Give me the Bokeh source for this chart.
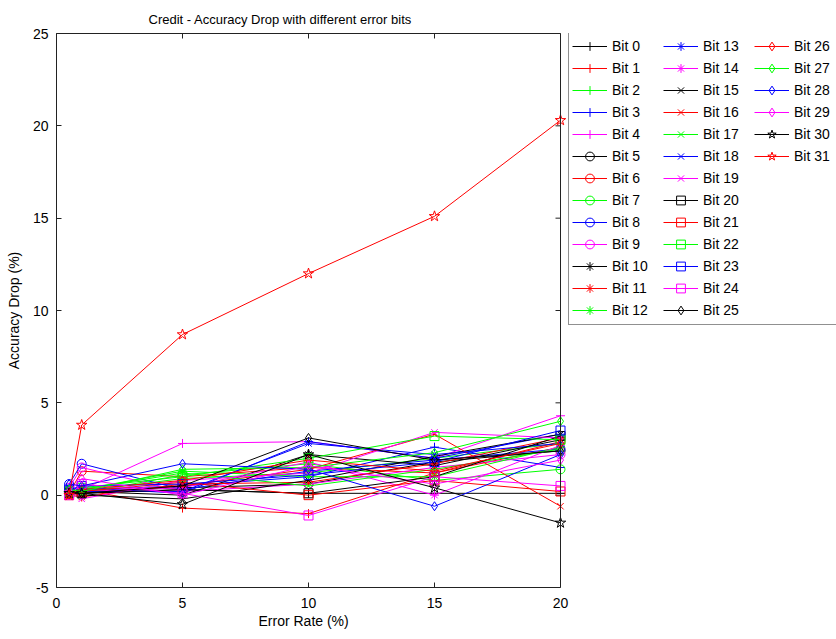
import math
from bokeh.plotting import figure
from bokeh.models import Legend, LegendItem, LinearAxis, FixedTicker, Range1d, Span, Title
from bokeh.embed import file_html
from bokeh.resources import INLINE

error_rates = [0.5, 1, 5, 10, 15, 20]

bit0 = [0.2, 0.1, 0.3, 0.1, 0.1, 0.1]
bit1 = [0.0, 0.3, -0.7, -1.0, 1.2, 2.6]
bit2 = [0.1, 0.2, 0.9, 1.2, 2.0, 2.8]
bit3 = [0.2, 0.3, 0.5, 1.0, 2.6, 1.5]
bit4 = [0.3, 0.3, 2.8, 2.9, 2.0, 4.3]
bit5 = [0.3, 0.2, 0.4, 0.6, 1.8, 2.4]
bit6 = [0.1, 1.3, 1.0, 1.5, 1.2, 2.9]
bit7 = [0.2, 0.1, 1.1, 1.7, 0.8, 1.4]
bit8 = [0.6, 1.7, 0.3, 1.3, 1.9, 2.5]
bit9 = [0.4, 1.5, 0.2, 0.6, 1.5, 2.2]
bit10 = [0.1, 0.2, 0.0, 2.2, 1.6, 3.0]
bit11 = [0.0, -0.1, 0.6, 0.7, 1.7, 3.1]
bit12 = [0.2, 0.3, 1.3, 1.0, 1.0, 2.6]
bit13 = [0.3, 0.4, 0.1, 2.9, 2.0, 3.3]
bit14 = [0.1, 0.2, 0.4, 1.8, 0.0, 2.7]
bit15 = [0.2, 0.0, -0.2, 0.8, 2.1, 3.3]
bit16 = [0.0, 0.1, 0.5, 1.4, 3.3, -0.6]
bit17 = [0.1, 0.3, 1.2, 0.5, 1.4, 2.5]
bit18 = [0.4, 0.2, 0.2, 2.8, 2.2, 2.8]
bit19 = [0.2, -0.2, 0.8, 1.2, 3.4, 3.1]
bit20 = [0.1, 0.1, 0.3, 0.1, 1.0, 3.2]
bit21 = [0.0, 0.2, 0.7, 0.0, 0.8, 0.2]
bit22 = [0.2, 0.4, 1.0, 2.0, 3.2, 3.0]
bit23 = [0.3, 0.5, 0.6, 1.1, 1.8, 3.5]
bit24 = [0.0, 0.6, 0.1, -1.1, 1.0, 0.5]
bit25 = [0.2, 0.1, 0.5, 3.1, 1.9, 2.4]
bit26 = [0.1, 0.3, 0.8, 1.9, 1.3, 2.8]
bit27 = [0.3, 0.2, 1.4, 1.5, 2.3, 4.0]
bit28 = [0.6, 0.5, 1.7, 1.4, -0.6, 2.2]
bit29 = [0.2, 0.9, 0.0, 1.6, 0.6, 1.9]
bit30 = [0.1, 0.1, -0.5, 2.2, 0.4, -1.5]
bit31 = [0.0, 3.8, 8.7, 12.0, 15.1, 20.3]

series = [bit0, bit1, bit2, bit3, bit4, bit5, bit6, bit7, bit8, bit9,
          bit10, bit11, bit12, bit13, bit14, bit15, bit16, bit17, bit18, bit19,
          bit20, bit21, bit22, bit23, bit24, bit25, bit26, bit27, bit28, bit29,
          bit30, bit31]
labels = ["Bit %d" % i for i in range(32)]
colors = ["#000000", "#ff0000", "#00ff00", "#0000ff", "#ff00ff"]
markers = (["cross"] * 5 + ["circle"] * 5 + ["asterisk"] * 5 + ["x"] * 5 +
           ["square"] * 5 + ["diamond"] * 5 + ["star"] * 2)
x_ticks = [0, 5, 10, 15, 20]
y_ticks = [-5, 0, 5, 10, 15, 20, 25]
y_tick_labels = {-5: "-5", 0: "0", 5: "5", 10: "10", 15: "15", 20: "20", 25: "25"}

FONT = "Liberation Sans"
AX = "#222222"

# layout in pixels: axes box 504 px wide (x 0..20); frame extends to the right edge for the legend
BOX_W = 504
FRAME_W = 780
X_MAX = 20
x_end = X_MAX * FRAME_W / BOX_W

p = figure(width=836, height=639, x_range=Range1d(0, x_end), y_range=Range1d(-5, 25),
           output_backend="svg", toolbar_location=None,
           min_border_left=56, min_border_right=0, min_border_top=33, min_border_bottom=52)
p.title = Title(text="Credit - Accuracy Drop with different error bits",
                align="left", offset=92, vertical_align="top",
                text_font=FONT, text_font_size="13px", text_font_style="normal",
                text_color="#000000")
p.grid.visible = False
p.outline_line_color = None
p.background_fill_color = "white"
p.border_fill_color = "white"

p.xaxis.ticker = FixedTicker(ticks=x_ticks)
p.xaxis.bounds = (0, X_MAX)
p.yaxis.ticker = FixedTicker(ticks=y_ticks)
p.yaxis.major_label_overrides = y_tick_labels
p.yaxis.axis_label = "Accuracy Drop (%)"
for ax in (p.xaxis[0], p.yaxis[0]):
    ax.major_tick_in = 5
    ax.major_tick_out = 0
    ax.minor_tick_line_color = None
    ax.axis_line_color = AX
    ax.major_tick_line_color = AX
    ax.major_label_text_font = FONT
    ax.major_label_text_font_size = "14px"
    ax.major_label_text_color = "#000000"
    ax.axis_label_text_font = FONT
    ax.axis_label_text_font_size = "14px"
    ax.axis_label_text_font_style = "normal"
    ax.axis_label_text_color = "#000000"
p.xaxis.major_label_standoff = 10
p.yaxis.major_label_standoff = 8
p.yaxis.axis_label_standoff = 8

# x axis title centred under the axes box
x_title = Title(text="Error Rate (%)", align="left", offset=202, standoff=0,
                text_font=FONT, text_font_size="14px", text_font_style="normal",
                text_color="#000000")
p.add_layout(x_title, "below")

top_axis = LinearAxis(ticker=FixedTicker(ticks=x_ticks), bounds=(0, X_MAX),
                      major_label_overrides={t: "" for t in x_ticks})
top_axis.major_tick_in = 5
top_axis.major_tick_out = 0
top_axis.major_label_standoff = 0
top_axis.minor_tick_line_color = None
top_axis.axis_line_color = AX
top_axis.major_tick_line_color = AX
p.add_layout(top_axis, "above")

# right edge of the axes box with inward ticks
p.add_layout(Span(location=X_MAX, dimension="height", line_color=AX, line_width=1))
p.ray(x=[X_MAX] * len(y_ticks), y=y_ticks, length=5, length_units="screen",
      angle=math.pi, line_color=AX, line_width=1)

items = []
for i, ys in enumerate(series):
    c = colors[i % 5]
    m = markers[i]
    r1 = p.line(error_rates, ys, line_color=c, line_width=1)
    sz = 11 if m == "star" else 9
    r2 = p.scatter(error_rates, ys, marker=m, size=sz, line_color=c,
                   fill_color=None, line_width=1)
    items.append(LegendItem(label=labels[i], renderers=[r1, r2]))

NROWS = 13
ROW_H = 22
PAD = 3
legend_h = NROWS * ROW_H + 2 * PAD
legend = Legend(items=items, nrows=NROWS, orientation="vertical",
                location=(BOX_W + 8, 554 - legend_h))
legend.glyph_width = 35
legend.glyph_height = ROW_H
legend.label_height = ROW_H
legend.label_width = 51
legend.label_standoff = 5
legend.spacing = 0
legend.padding = PAD
legend.margin = 0
legend.label_text_font = FONT
legend.label_text_font_size = "14px"
legend.label_text_color = "#000000"
legend.border_line_color = AX
legend.border_line_width = 1
legend.background_fill_alpha = 1.0
p.add_layout(legend, "center")

open("out.html", "w").write(file_html(p, INLINE))
